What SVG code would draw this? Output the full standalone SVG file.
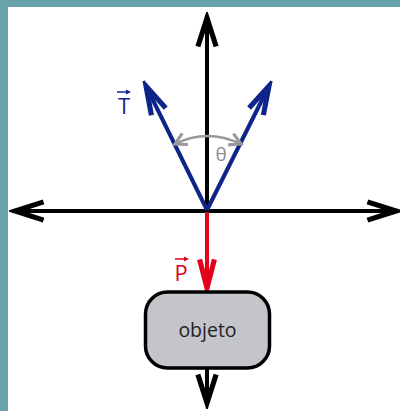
<svg xmlns="http://www.w3.org/2000/svg" width="400" height="411" viewBox="0 0 400 411">
<style>
.ax{stroke:#000;stroke-width:4;fill:none}
.tv{stroke:#0d2488;stroke-width:4;fill:none}
.pv{stroke:#e2001a;stroke-width:4;fill:none}
.arc{stroke:#999;stroke-width:2.5;fill:none}
.lbl{font-family:"Open Sans","Noto Sans",sans-serif}
</style>
<defs>
<marker id="hk" markerUnits="userSpaceOnUse" markerWidth="40" markerHeight="40" viewBox="-30 -15 35 30" refX="0" refY="0" orient="auto">
<path d="M-25,-8 L0,0 L-25,8" stroke="#000" stroke-width="4.5" fill="none" stroke-linejoin="miter" stroke-miterlimit="12"/>
</marker>
<marker id="hb" markerUnits="userSpaceOnUse" markerWidth="40" markerHeight="40" viewBox="-30 -15 35 30" refX="0" refY="0" orient="auto">
<path d="M-25,-7 L0,0 L-25,7" stroke="#0d2488" stroke-width="4.5" fill="none" stroke-miterlimit="12"/>
</marker>
<marker id="hr" markerUnits="userSpaceOnUse" markerWidth="40" markerHeight="40" viewBox="-30 -15 35 30" refX="0" refY="0" orient="auto">
<path d="M-25,-6.5 L0,0 L-25,6.5" stroke="#e2001a" stroke-width="4.5" fill="none" stroke-miterlimit="12"/>
</marker>
<marker id="hg" markerUnits="userSpaceOnUse" markerWidth="20" markerHeight="20" viewBox="-12 -8 14 16" refX="0" refY="0" orient="auto-start-reverse">
<path d="M-9,-5 L0,0 L-9,5" stroke="#999" stroke-width="2.5" fill="none"/>
</marker>
</defs>
<rect x="0" y="0" width="400" height="411" fill="#fff"/>
<rect x="0" y="0" width="400" height="7" fill="#68a3ac"/>
<rect x="0" y="0" width="8" height="411" fill="#68a3ac"/>
<g id="connectors">
<path class="ax" d="M207,211 L207,18" marker-end="url(#hk)"/>
<path class="ax" d="M207,211 L15,211" marker-end="url(#hk)"/>
<path class="ax" d="M207,211 L396,211" marker-end="url(#hk)"/>
<path class="tv" d="M207,210 L146,86" marker-end="url(#hb)"/>
<path class="tv" d="M207,210 L269,86" marker-end="url(#hb)"/>
<path class="arc" d="M175,144 Q207,128 241,144" marker-start="url(#hg)" marker-end="url(#hg)"/>
<path class="pv" d="M207,212 L207,288" marker-end="url(#hr)"/>
<path class="ax" d="M207,369 L207,403" marker-end="url(#hk)"/>
</g>
<g id="label-T">
<text class="lbl" x="124" y="114" font-size="22" fill="#0d2488" text-anchor="middle">T</text>
<path d="M117,92 L129,92" stroke="#0d2488" stroke-width="1.5"/>
<path d="M126,89.5 L131,92 L126,94.5 Z" fill="#0d2488"/>
</g>
<g id="label-theta">
<text class="lbl" x="221" y="161" font-size="19" fill="#8c8c8c" text-anchor="middle">θ</text>
</g>
<g id="label-P">
<text class="lbl" x="181" y="281" font-size="22" fill="#e2001a" text-anchor="middle">P</text>
<path d="M175,259 L187,259" stroke="#e2001a" stroke-width="1.5"/>
<path d="M184,256.5 L189,259 L184,261.5 Z" fill="#e2001a"/>
</g>
<g id="objeto">
<rect x="145.5" y="292" width="124" height="76" rx="22" ry="22" fill="#c4c5ca" stroke="#000" stroke-width="3.5"/>
<text class="lbl" x="207.5" y="337" font-size="19.5" fill="#222" text-anchor="middle">objeto</text>
</g>
</svg>
